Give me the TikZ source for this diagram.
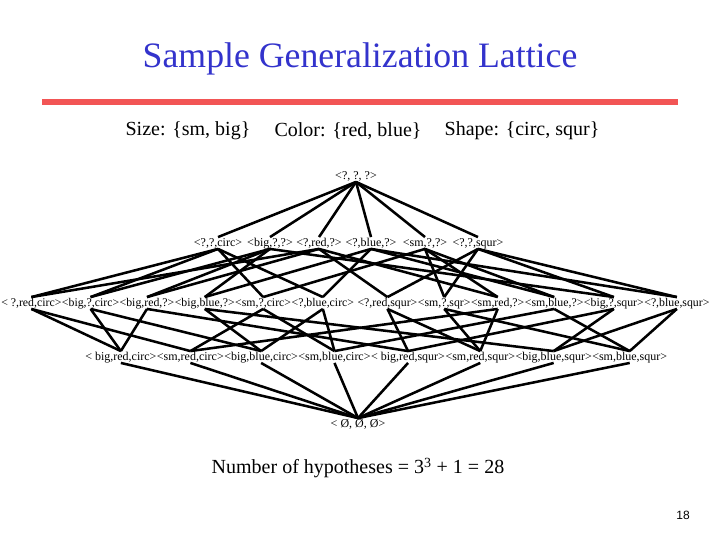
\documentclass[tikz,border=0pt]{standalone}
\usepackage{fontspec}
\setmainfont{Liberation Serif}
\newfontfamily\pagefont{Liberation Sans}
\definecolor{titleblue}{RGB}{51,51,204}
\definecolor{rulered}{RGB}{242,85,85}
\begin{document}
\begin{tikzpicture}[x=0.75pt,y=-0.75pt,
  lbl/.style={inner sep=0pt, font=\fontsize{9}{10}\selectfont, text height=6.5pt, text depth=2pt},
  chain/.style={lbl, anchor=west},
  chainsm/.style={chain, font=\fontsize{8.85}{10}\selectfont},
  edge/.style={line width=1.9pt, black},
  heading/.style={inner sep=0pt, font=\fontsize{15}{18}\selectfont},
]
\useasboundingbox (0,0) rectangle (720,540);
% title and rule
\node[inner sep=0pt, text=titleblue, font=\fontsize{26.8}{30}\selectfont] (title) at (360,59) {Sample Generalization Lattice};
\coordinate (rl) at (42,102);
\coordinate (rr) at (678,102);
\draw[rulered, line width=4.5pt] (rl) -- (rr);
% attribute headings
\node[heading] (hsize) at (188,131) {Size: \{sm, big\}};
\node[heading] (hcol) at (348,131) {Color: \{red, blue\}};
\node[heading] (hshape) at (522,131) {Shape: \{circ, squr\}};
% top
\node[lbl] (t) at (356,176) {<?, ?, ?>};
% row 2
\node[lbl] (c) at (218,243) {<?,?,circ>};
\node[lbl] (b) at (270,243) {<big,?,?>};
\node[lbl] (r) at (319,243) {<?,red,?>};
\node[lbl] (bl) at (371,243) {<?,blue,?>};
\node[lbl] (s) at (425,243) {<sm,?,?>};
\node[lbl] (q) at (478,243) {<?,?,squr>};
% row 3
\node[chainsm] (a1) at (1,303) {< ?,red,circ>};
\node[chainsm] (a2) at (a1.east) {<big,?,circ>};
\node[chainsm] (a3) at (a2.east) {<big,red,?>};
\node[chainsm] (a4) at (a3.east) {<big,blue,?>};
\node[chainsm] (a5) at (a4.east) {<sm,?,circ>};
\node[chainsm] (a6) at (a5.east) {<?,blue,circ>};
\node[chainsm] (a7) at ([xshift=2.2pt]a6.east) {<?,red,squr>};
\node[chainsm] (a8) at (a7.east) {<sm,?,sqr>};
\node[chainsm] (a9) at (a8.east) {<sm,red,?>};
\node[chainsm] (a10) at (a9.east) {<sm,blue,?>};
\node[chainsm] (a11) at (a10.east) {<big,?,squr>};
\node[chainsm] (a12) at (a11.east) {<?,blue,squr>};
% row 4
\node[chain] (d1) at (85,357) {< big,red,circ>};
\node[chain] (d2) at (d1.east) {<sm,red,circ>};
\node[chain] (d3) at (d2.east) {<big,blue,circ>};
\node[chain] (d4) at (d3.east) {<sm,blue,circ>};
\node[chain] (d5) at (d4.east) {< big,red,squr>};
\node[chain] (d6) at (d5.east) {<sm,red,squr>};
\node[chain] (d7) at (d6.east) {<big,blue,squr>};
\node[chain] (d8) at (d7.east) {<sm,blue,squr>};
% bottom
\node[lbl] (z) at (358,424) {< Ø, Ø, Ø>};
% edges top -> row 2
\foreach \n in {c,b,r,bl,s,q} \draw[edge] (t.south) -- (\n.north);
% edges row 2 -> row 3
\foreach \p/\k in {r/a1,c/a1,b/a2,c/a2,b/a3,r/a3,b/a4,bl/a4,s/a5,c/a5,bl/a6,c/a6,
                   r/a7,q/a7,s/a8,q/a8,s/a9,r/a9,s/a10,bl/a10,b/a11,q/a11,bl/a12,q/a12}
  \draw[edge] (\p.south) -- (\k.north);
% edges row 3 -> row 4
\foreach \p/\k in {a1/d1,a2/d1,a3/d1, a1/d2,a5/d2,a9/d2, a6/d3,a2/d3,a4/d3, a6/d4,a5/d4,a10/d4,
                   a7/d5,a11/d5,a3/d5, a7/d6,a8/d6,a9/d6, a12/d7,a11/d7,a4/d7, a12/d8,a8/d8,a10/d8}
  \draw[edge] (\p.south) -- (\k.north);
% edges row 4 -> bottom
\foreach \n in {d1,d2,d3,d4,d5,d6,d7,d8} \draw[edge] (\n.south) -- (z.north);
% formula and page number
\node[heading] (formula) at (358,468) {Number of hypotheses = 3\textsuperscript{3} + 1 = 28};
\node[inner sep=0pt, font=\pagefont\fontsize{9}{10}\selectfont] (pg) at (683,515) {18};
\end{tikzpicture}
\end{document}
